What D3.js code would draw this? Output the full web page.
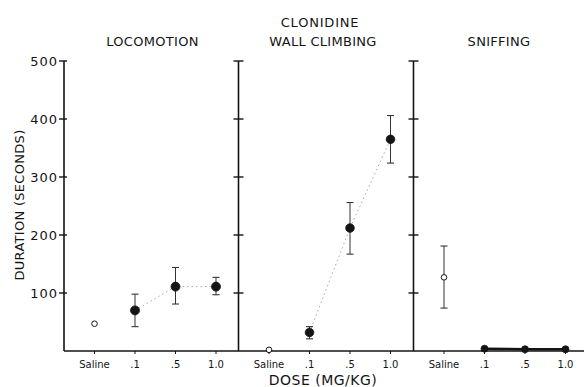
<!DOCTYPE html>
<html>
<head>
<meta charset="utf-8">
<script src="https://cdn.jsdelivr.net/npm/d3@7"></script>
<style>
  html, body { margin: 0; padding: 0; background: #fff; }
  svg { display: block; font-family: "DejaVu Sans", sans-serif; }
</style>
</head>
<body>
<svg id="chart" width="584" height="387"></svg>
<script>
// ---- data ----
const categories = ["Saline", ".1", ".5", "1.0"];
const panelTitles = ["LOCOMOTION", "WALL CLIMBING", "SNIFFING"];
const drugTitle = "CLONIDINE";
const yTicks = [100, 200, 300, 400, 500];

const locoMean = [47, 70, 111, 111];
const locoLow  = [null, 42, 81, 97];
const locoHigh = [null, 98, 144, 127];

const wallMean = [2, 32, 212, 365];
const wallLow  = [null, 21, 167, 324];
const wallHigh = [null, 42, 256, 406];

const sniffMean = [127, 4, 3, 3];
const sniffLow  = [74, null, null, null];
const sniffHigh = [181, null, null, null];

const yLabel = "DURATION (SECONDS)";
const xLabel = "DOSE (MG/KG)";

// ---- layout ----
const svg = d3.select("#chart");
const ink = "#141414";
const y = d3.scaleLinear().domain([0, 500]).range([351, 61]);
const panelLeft = [64, 238.5, 413.5];
const x = d3.scalePoint().domain(categories).range([30.5, 152]);

const panels = [
  { mean: locoMean, low: locoLow, high: locoHigh, connect: "dotted", r: 4.5 },
  { mean: wallMean, low: wallLow, high: wallHigh, connect: "dotted", r: 4.3 },
  { mean: sniffMean, low: sniffLow, high: sniffHigh, connect: "solid", r: 3.5 }
];

// baseline
svg.append("line")
  .attr("x1", panelLeft[0]).attr("x2", 584)
  .attr("y1", y(0)).attr("y2", y(0))
  .attr("stroke", ink).attr("stroke-width", 1.6);

panels.forEach((p, i) => {
  const g = svg.append("g").attr("transform", `translate(${panelLeft[i]},0)`);

  // vertical axis
  const ax = g.append("g").call(d3.axisLeft(y).tickValues(yTicks).tickSize(0).tickFormat(i === 0 ? d3.format("d") : () => ""));
  ax.select(".domain").remove();
  ax.selectAll("text")
    .attr("x", -6).attr("dy", "0.36em")
    .attr("fill", ink)
    .style("font-size", "13px").style("letter-spacing", "1px")
    .style("font-family", "'DejaVu Sans', sans-serif");
  g.append("line")
    .attr("x1", 0).attr("x2", 0)
    .attr("y1", y(0)).attr("y2", y(500))
    .attr("stroke", ink).attr("stroke-width", 1.6);
  g.selectAll("line.ytick").data(yTicks).join("line")
    .attr("class", "ytick")
    .attr("x1", -5).attr("x2", i === 0 ? 3 : 5)
    .attr("y1", d => y(d)).attr("y2", d => y(d))
    .attr("stroke", ink).attr("stroke-width", 1.4);

  // x ticks and labels
  g.selectAll("line.xtick").data(categories).join("line")
    .attr("class", "xtick")
    .attr("x1", d => x(d)).attr("x2", d => x(d))
    .attr("y1", y(0)).attr("y2", y(0) + 3)
    .attr("stroke", ink).attr("stroke-width", 1);
  g.selectAll("text.xlab").data(categories).join("text")
    .attr("class", "xlab")
    .attr("x", d => x(d)).attr("y", 368)
    .attr("text-anchor", "middle")
    .attr("fill", ink)
    .style("font-size", "10px")
    .text(d => d);

  // connecting line for drug doses
  const doseIdx = [1, 2, 3];
  const line = d3.line().x(j => x(categories[j])).y(j => y(p.mean[j]));
  g.append("path")
    .attr("d", line(doseIdx))
    .attr("fill", "none")
    .attr("stroke", p.connect === "solid" ? ink : "#aaaaaa")
    .attr("stroke-width", p.connect === "solid" ? 2.5 : 1)
    .attr("stroke-dasharray", p.connect === "solid" ? null : "1.5,3");

  // error bars
  categories.forEach((c, j) => {
    if (p.low[j] == null) return;
    const cx = x(c);
    g.append("line")
      .attr("x1", cx).attr("x2", cx)
      .attr("y1", y(p.low[j])).attr("y2", y(p.high[j]))
      .attr("stroke", "#333").attr("stroke-width", 1);
    [p.low[j], p.high[j]].forEach(v => {
      g.append("line")
        .attr("x1", cx - 3.5).attr("x2", cx + 3.5)
        .attr("y1", y(v)).attr("y2", y(v))
        .attr("stroke", "#333").attr("stroke-width", 1.1);
    });
  });

  // points
  categories.forEach((c, j) => {
    const isSaline = j === 0;
    g.append("circle")
      .attr("cx", x(c)).attr("cy", y(p.mean[j]))
      .attr("r", isSaline ? 2.8 : p.r)
      .attr("fill", isSaline ? "#fff" : ink)
      .attr("stroke", ink)
      .attr("stroke-width", isSaline ? 1 : 0.8);
  });
});

// titles
const titleX = [152.5, 323, 499];
panelTitles.forEach((t, i) => {
  svg.append("text")
    .attr("x", titleX[i]).attr("y", 46)
    .attr("text-anchor", "middle")
    .attr("fill", ink)
    .style("font-size", "13px").style("letter-spacing", "0.3px")
    .text(t);
});
svg.append("text")
  .attr("x", 320).attr("y", 26.5)
  .attr("text-anchor", "middle")
  .attr("fill", ink)
  .style("font-size", "13px").style("letter-spacing", "0.8px")
  .text(drugTitle);

// axis labels
svg.append("text")
  .attr("transform", "translate(24,205) rotate(-90)")
  .attr("text-anchor", "middle")
  .attr("fill", ink)
  .style("font-size", "13px").style("letter-spacing", "0.3px")
  .text(yLabel);
svg.append("text")
  .attr("x", 323).attr("y", 385)
  .attr("text-anchor", "middle")
  .attr("fill", ink)
  .style("font-size", "14px").style("letter-spacing", "0.5px")
  .text(xLabel);
</script>
</body>
</html>
